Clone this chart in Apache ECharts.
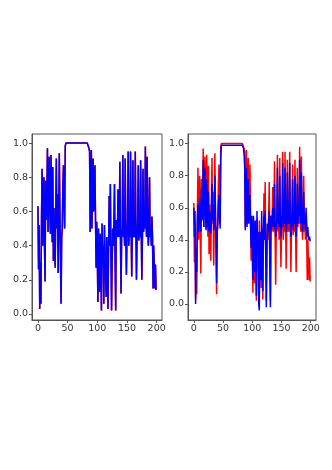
<!DOCTYPE html>
<html>
<head>
<meta charset="utf-8">
<script src="https://cdn.jsdelivr.net/npm/echarts@6/dist/echarts.min.js"></script>
<style>
html, body { margin: 0; padding: 0; background: #fff; }
#main { width: 332px; height: 470px; }
</style>
</head>
<body>
<div id="main"></div>
<script>
// 原始信号 (红)
var signalRed = [
	0.63, 0.26, 0.52, 0.03, 0.30, 0.06, 0.55, 0.85, 0.40, 0.62,
	0.80, 0.40, 0.19, 0.78, 0.55, 0.70, 0.97, 0.48, 0.75, 0.92,
	0.60, 0.47, 0.93, 0.70, 0.42, 0.86, 0.31, 0.62, 0.45, 0.27,
	0.60, 0.91, 0.50, 0.70, 0.24, 0.55, 0.94, 0.60, 0.30, 0.06,
	0.45, 0.50, 0.75, 0.87, 0.65, 0.50, 0.98, 1.00, 1.00, 1.00,
	1.00, 1.00, 1.00, 1.00, 1.00, 1.00, 1.00, 1.00, 1.00, 1.00,
	1.00, 1.00, 1.00, 1.00, 1.00, 1.00, 1.00, 1.00, 1.00, 1.00,
	1.00, 1.00, 1.00, 1.00, 1.00, 1.00, 1.00, 1.00, 1.00, 1.00,
	1.00, 1.00, 1.00, 1.00, 0.995, 0.99, 0.97, 0.95, 0.48, 0.80,
	0.96, 0.50, 0.75, 0.91, 0.60, 0.70, 0.87, 0.55, 0.27, 0.54,
	0.35, 0.07, 0.50, 0.30, 0.13, 0.47, 0.25, 0.02, 0.53, 0.30,
	0.40, 0.06, 0.52, 0.35, 0.20, 0.10, 0.45, 0.25, 0.03, 0.40,
	0.69, 0.40, 0.76, 0.35, 0.02, 0.30, 0.50, 0.40, 0.55, 0.76,
	0.30, 0.02, 0.55, 0.45, 0.50, 0.73, 0.45, 0.50, 0.89, 0.45,
	0.12, 0.45, 0.50, 0.93, 0.45, 0.50, 0.40, 0.91, 0.50, 0.23,
	0.45, 0.55, 0.95, 0.40, 0.50, 0.45, 0.95, 0.50, 0.22, 0.50,
	0.90, 0.45, 0.50, 0.45, 0.95, 0.50, 0.20, 0.45, 0.55, 0.87,
	0.43, 0.50, 0.45, 0.90, 0.50, 0.20, 0.45, 0.85, 0.48, 0.55,
	0.50, 0.98, 0.55, 0.45, 0.92, 0.50, 0.40, 0.50, 0.80, 0.45,
	0.50, 0.40, 0.57, 0.45, 0.15, 0.40, 0.28, 0.15, 0.29, 0.14
];
// 重构信号 (蓝, 右图)
var signalBlue = [
	0.60, 0.42, 0.58, 0.00, 0.35, 0.20, 0.50, 0.62, 0.45, 0.58,
	0.66, 0.50, 0.45, 0.72, 0.52, 0.62, 0.90, 0.48, 0.65, 0.85,
	0.55, 0.46, 0.78, 0.60, 0.48, 0.70, 0.45, 0.58, 0.50, 0.44,
	0.58, 0.75, 0.52, 0.62, 0.46, 0.55, 0.80, 0.55, 0.40, 0.13,
	0.45, 0.50, 0.62, 0.68, 0.55, 0.47, 0.90, 0.99, 0.99, 0.99,
	0.99, 0.99, 0.99, 0.99, 0.99, 0.99, 0.99, 0.99, 0.99, 0.99,
	0.99, 0.99, 0.99, 0.99, 0.99, 0.99, 0.99, 0.99, 0.99, 0.99,
	0.99, 0.99, 0.99, 0.99, 0.99, 0.99, 0.99, 0.99, 0.99, 0.99,
	0.99, 0.99, 0.99, 0.99, 0.985, 0.97, 0.93, 0.85, 0.46, 0.70,
	0.85, 0.48, 0.62, 0.78, 0.50, 0.60, 0.68, 0.50, 0.35, 0.55,
	0.42, 0.15, 0.55, 0.38, 0.20, 0.52, 0.30, 0.05, 0.58, 0.35,
	0.45, 0.00, -0.04, 0.45, 0.25, 0.15, 0.58, 0.30, 0.08, 0.45,
	0.55, 0.40, 0.58, 0.30, -0.02, 0.35, 0.50, 0.45, 0.52, 0.58,
	0.25, -0.02, 0.55, 0.48, 0.52, 0.60, 0.48, 0.52, 0.75, 0.50,
	0.42, 0.50, 0.52, 0.85, 0.50, 0.55, 0.48, 0.80, 0.52, 0.42,
	0.50, 0.58, 0.88, 0.48, 0.55, 0.50, 0.85, 0.52, 0.45, 0.52,
	0.82, 0.50, 0.55, 0.50, 0.88, 0.52, 0.42, 0.50, 0.58, 0.78,
	0.46, 0.55, 0.50, 0.80, 0.52, 0.42, 0.50, 0.75, 0.50, 0.58,
	0.55, 0.90, 0.58, 0.50, 0.82, 0.55, 0.45, 0.52, 0.70, 0.50,
	0.55, 0.46, 0.60, 0.50, 0.42, 0.48, 0.42, 0.40, 0.42, 0.39
];
var xTicks = [0, 50, 100, 150, 200];
var yTicks = [0, 0.2, 0.4, 0.6, 0.8, 1.0];

function toPairs(arr) {
	return arr.map(function(v, i) { return [i, v]; });
}

var chart = echarts.init(document.getElementById("main"));

function xAxisOf(idx) {
	return {
		type: 'value', gridIndex: idx, min: -10, max: 209,
		axisLine: { show: true, onZero: false, lineStyle: { color: '#555', width: 1 } },
		axisTick: { show: true, length: 3, customValues: xTicks, lineStyle: { color: '#555' } },
		axisLabel: { customValues: xTicks, fontSize: 9.5, color: '#333', margin: 4, fontFamily: 'DejaVu Sans' },
		splitLine: { show: false }
	};
}
function yAxisOf(idx, mn, mx) {
	return {
		type: 'value', gridIndex: idx, min: mn, max: mx,
		axisLine: { show: true, onZero: false, lineStyle: { color: '#555', width: 1 } },
		axisTick: { show: true, length: 3, customValues: yTicks, lineStyle: { color: '#555' } },
		axisLabel: {
			customValues: yTicks, fontSize: 9.5, color: '#333', margin: 4, fontFamily: 'DejaVu Sans',
			formatter: function(v) { return v.toFixed(1); }
		},
		splitLine: { show: false }
	};
}
function lineOf(name, arr, color, idx) {
	return {
		name: name, type: 'line', xAxisIndex: idx, yAxisIndex: idx,
		data: toPairs(arr), showSymbol: false, symbol: 'none',
		lineStyle: { color: color, width: 1.5 }, z: color === '#0000ff' ? 3 : 2
	};
}

var option = {
	animation: false,
	backgroundColor: '#fff',
	grid: [
		{ left: 32, top: 134, width: 130, height: 186, show: true, borderColor: '#555', borderWidth: 1 },
		{ left: 188, top: 134, width: 128, height: 186, show: true, borderColor: '#555', borderWidth: 1 }
	],
	xAxis: [xAxisOf(0), xAxisOf(1)],
	yAxis: [yAxisOf(0, -0.035, 1.053), yAxisOf(1, -0.1, 1.06)],
	series: [
		lineOf('red-a', signalRed, '#ff0000', 0),
		lineOf('blue-a', signalRed, '#0000ff', 0),
		lineOf('red-b', signalRed, '#ff0000', 1),
		lineOf('blue-b', signalBlue, '#0000ff', 1)
	]
};

chart.setOption(option);
window.onresize = chart.resize;
</script>
</body>
</html>
